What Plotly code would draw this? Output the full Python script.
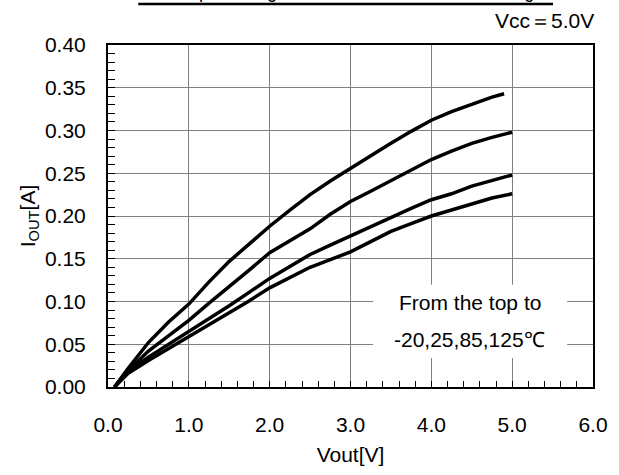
import plotly.graph_objects as go

# ---- data ----
vout = [0.08, 0.25, 0.5, 0.75, 1.0, 1.25, 1.5, 1.75, 2.0, 2.25, 2.5, 2.75,
        3.0, 3.25, 3.5, 3.75, 4.0, 4.25, 4.5, 4.75, 5.0]
vout_m20 = vout[:-1] + [4.9]
iout_m20 = [0.0, 0.022, 0.052, 0.076, 0.097, 0.123, 0.147, 0.168, 0.188, 0.207, 0.225, 0.241,
            0.256, 0.271, 0.285, 0.299, 0.312, 0.322, 0.331, 0.339, 0.343]
iout_25 = [0.0, 0.019, 0.042, 0.060, 0.078, 0.098, 0.117, 0.137, 0.157, 0.171, 0.185, 0.202,
           0.217, 0.229, 0.241, 0.254, 0.266, 0.276, 0.285, 0.292, 0.298]
iout_85 = [0.0, 0.018, 0.035, 0.050, 0.064, 0.079, 0.095, 0.111, 0.127, 0.141, 0.155, 0.166,
           0.177, 0.188, 0.199, 0.209, 0.219, 0.226, 0.235, 0.242, 0.248]
iout_125 = [0.0, 0.016, 0.031, 0.045, 0.058, 0.072, 0.086, 0.101, 0.116, 0.128, 0.140, 0.149,
            0.158, 0.170, 0.182, 0.191, 0.200, 0.207, 0.214, 0.221, 0.226]
series = [("-20℃", vout_m20, iout_m20), ("25℃", vout, iout_25),
          ("85℃", vout, iout_85), ("125℃", vout, iout_125)]

x_ticks = [0, 1, 2, 3, 4, 5, 6]
y_ticks = [0.0, 0.05, 0.10, 0.15, 0.20, 0.25, 0.30, 0.35, 0.40]

FONT = "Liberation Sans, Arial, sans-serif"
FS = 21

fig = go.Figure()
for name, xs, ys in series:
    fig.add_trace(go.Scatter(x=xs, y=ys, mode="lines", name=name,
                             line=dict(color="black", width=3.5), showlegend=False))

axis_common = dict(showline=True, mirror=True, linecolor="black", linewidth=2,
                   showgrid=True, gridcolor="#808080", gridwidth=1.2,
                   ticks="inside", ticklen=5, tickcolor="black", tickwidth=1,
                   zeroline=False, tickfont=dict(family=FONT, size=FS, color="black"))

fig.update_xaxes(range=[0, 6], tickvals=x_ticks, tickformat=".1f",
                 minor=dict(ticks="inside", ticklen=6, dtick=0.2, tick0=0,
                            tickcolor="black", tickwidth=1.2, showgrid=False),
                 ticklabelstandoff=18,
                 title=dict(text="Vout[V]", font=dict(family=FONT, size=FS, color="black"),
                            standoff=12),
                 **axis_common)
fig.update_yaxes(range=[0, 0.4], tickvals=y_ticks, tickformat=".2f",
                 minor=dict(ticks="inside", ticklen=7, dtick=0.01, tick0=0,
                            tickcolor="black", tickwidth=1.2, showgrid=False),
                 ticklabelstandoff=16,
                 title=dict(text="I<sub>OUT</sub>[A]", font=dict(family=FONT, size=FS, color="black"),
                            standoff=4),
                 **axis_common)

# white box behind the note
fig.add_shape(type="rect", xref="x", yref="y", x0=3.28, x1=5.68, y0=0.034, y1=0.1195,
              fillcolor="white", line=dict(width=0), layer="above")
fig.add_annotation(x=4.48, y=0.0985, xref="x", yref="y", text="From the top to",
                   showarrow=False, font=dict(family=FONT, size=FS, color="black"))
fig.add_annotation(x=4.47, y=0.055, xref="x", yref="y", text="-20,25,85,125℃",
                   showarrow=False, font=dict(family=FONT, size=FS, color="black"))

# top texts
fig.add_annotation(x=1.006, y=1.073, xref="paper", yref="paper", text="Vcc＝5.0V",
                   xanchor="right", yanchor="middle", showarrow=False,
                   font=dict(family=FONT, size=FS, color="black"))
fig.add_annotation(x=0.124, y=1.1205, xref="paper", yref="paper",
                   text="Output voltage vs. Source current at Sourcing",
                   xanchor="left", yanchor="bottom", showarrow=False,
                   font=dict(family=FONT, size=18, color="black"))
fig.add_shape(type="line", xref="paper", yref="paper", x0=0.0624, x1=0.9176,
              y0=1.1199, y1=1.1199, line=dict(color="black", width=2.5))

fig.update_layout(width=619, height=475, margin=dict(l=108, r=26, t=45, b=88),
                  paper_bgcolor="white", plot_bgcolor="white",
                  font=dict(family=FONT, size=FS, color="black"))

fig.write_html("out.html")
